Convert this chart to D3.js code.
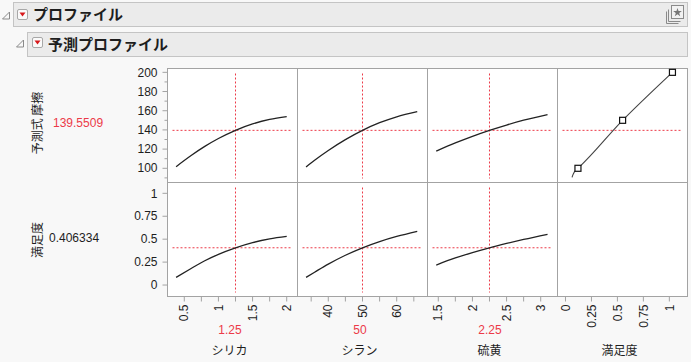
<!DOCTYPE html>
<html>
<head>
<meta charset="utf-8">
<script src="https://d3js.org/d3.v7.min.js"></script>
<style>
body { margin: 0; background: #f8f8f8; }
text { font-family: "Liberation Sans", Arial, "Noto Sans CJK JP", sans-serif; fill: #1e1e1e; }
.jp { font-family: "Noto Sans CJK JP", sans-serif; }
</style>
</head>
<body>
<svg width="691" height="362"></svg>
<script>
// factor settings
const factorNames = ["シリカ", "シラン", "硫黄"];
const currentX = [1.25, 50, 2.25];
const currentLabels = ["1.25", "50", "2.25"];
const predicted = 139.5509;
const desirability = 0.406334;

// profile traces
const silicaX   = [0.38, 0.6, 0.8, 1.0, 1.25, 1.5, 1.75, 2.0];
const silicaFr  = [101.7, 113.3, 122.8, 131.0, 139.55, 146.2, 150.9, 153.8];
const silicaDes = [0.084, 0.18, 0.265, 0.335, 0.406, 0.463, 0.503, 0.53];

const silaneX   = [33.5, 36, 40, 45, 50, 55, 60, 66];
const silaneFr  = [101.4, 108.4, 118.6, 129.9, 139.55, 147.5, 153.7, 159.0];
const silaneDes = [0.084, 0.14, 0.228, 0.325, 0.406, 0.474, 0.53, 0.586];

const sulfurX   = [1.47, 1.75, 2.0, 2.25, 2.5, 2.75, 3.1];
const sulfurFr  = [117.9, 126.4, 133.3, 139.55, 145.1, 150.1, 155.9];
const sulfurDes = [0.218, 0.295, 0.354, 0.406, 0.453, 0.497, 0.553];

// desirability function (desirability -> friction)
const desFnD  = [0.063, 0.075, 0.095, 0.12, 0.55, 1.03];
const desFnY  = [90.6, 94, 97.5, 100, 150, 200];
const desMarkD = [0.12, 0.55, 1.03];
const desMarkY = [100, 150, 200];

// axes
const xDomains = [[0.254, 2.158], [31.0, 69.0], [1.342, 3.246], [-0.077, 1.175]];
const xTicks = [
  [0.5, 0.75, 1, 1.25, 1.5, 1.75, 2],
  [35, 40, 45, 50, 55, 60, 65],
  [1.5, 1.75, 2, 2.25, 2.5, 2.75, 3],
  [0, 0.25, 0.5, 0.75, 1]
];
const xTickLabels = [
  ["0.5", "", "1", "", "1.5", "", "2"],
  ["", "40", "", "50", "", "60", ""],
  ["1.5", "", "2", "", "2.5", "", "3"],
  ["0", "0.25", "0.5", "0.75", "1"]
];
const yTicks1 = [100, 120, 140, 160, 180, 200];
const yMinor1 = [90, 110, 130, 150, 170, 190];
const yTicks2 = [0, 0.25, 0.5, 0.75, 1];
const yTickLabels2 = ["0", "0.25", "0.5", "0.75", "1"];

const svg = d3.select("svg");
const red = "#ec3a48";
const gridGray = "#a3a3a3";

// ---- header bars ----
function bar(x, y, w, h) {
  svg.append("rect").attr("x", x).attr("y", y).attr("width", w).attr("height", h)
    .attr("fill", "#ebebeb").attr("stroke", "#c4c4c4");
}
function disclosure(x, y) {
  svg.append("path").attr("d", `M${x + 7},${y} L${x + 7},${y + 7} L${x},${y + 7} Z`)
    .attr("fill", "none").attr("stroke", "#8a8a8a");
}
function redButton(x, y) {
  svg.append("rect").attr("x", x).attr("y", y).attr("width", 10).attr("height", 10).attr("rx", 1.5)
    .attr("fill", "#fafafa").attr("stroke", "#a8a8a8");
  svg.append("path").attr("d", `M${x + 2},${y + 3} L${x + 8},${y + 3} L${x + 5},${y + 7} Z`)
    .attr("fill", "#d7191c");
}
bar(13.5, 2.5, 674, 24);
bar(27.5, 32.5, 660, 24);
disclosure(2.5, 12);
disclosure(16.5, 40);
redButton(17.5, 9.5);
redButton(32.5, 37.5);
svg.append("text").attr("class", "jp").attr("x", 33).attr("y", 20)
  .attr("font-size", 15).attr("font-weight", "bold").text("プロファイル");
svg.append("text").attr("class", "jp").attr("x", 48).attr("y", 50)
  .attr("font-size", 15).attr("font-weight", "bold").text("予測プロファイル");

// top right icon
svg.append("path").attr("d", "M666.5,11.5 V23.5 H678.5").attr("fill", "none").attr("stroke", "#8a8a8a");
svg.append("path").attr("d", "M668.5,9.5 V21.5 H680.5").attr("fill", "none").attr("stroke", "#8a8a8a");
svg.append("rect").attr("x", 671.5).attr("y", 5.5).attr("width", 12).attr("height", 13)
  .attr("fill", "#f2f2f2").attr("stroke", "#8a8a8a");
svg.append("path").attr("d", d3.symbol(d3.symbolStar, 24)())
  .attr("transform", "translate(677.5,12.5)").attr("fill", "#777");

// ---- profiler grid ----
const x0 = 167.5, pw = 130;
const rowTop = [68.5, 182.5], rh = 114;

const xs = xDomains.map((d, i) => d3.scaleLinear().domain(d).range([x0 + i * pw, x0 + (i + 1) * pw]));
const y1 = d3.scaleLinear().domain([85.2, 204.0]).range([rowTop[0] + rh, rowTop[0]]);
const y2 = d3.scaleLinear().domain([-0.125, 1.118]).range([rowTop[1] + rh, rowTop[1]]);

for (let r = 0; r < 2; r++) {
  for (let c = 0; c < 4; c++) {
    svg.append("rect").attr("x", x0 + c * pw).attr("y", rowTop[r])
      .attr("width", pw).attr("height", rh)
      .attr("fill", "#fff").attr("stroke", gridGray);
  }
}

// y axes
const yAx1 = svg.append("g").attr("transform", `translate(${x0},0)`);
yAx1.selectAll(".maj").data(yTicks1).enter().append("line")
  .attr("x1", -5).attr("x2", 0).attr("y1", d => y1(d)).attr("y2", d => y1(d)).attr("stroke", gridGray);
yAx1.selectAll(".min").data(yMinor1).enter().append("line")
  .attr("x1", -3).attr("x2", 0).attr("y1", d => y1(d)).attr("y2", d => y1(d)).attr("stroke", gridGray);
yAx1.selectAll("text").data(yTicks1).enter().append("text")
  .attr("x", -10).attr("y", d => y1(d)).attr("dy", "0.35em").attr("text-anchor", "end")
  .attr("font-size", 12).text(d => d);

const yAx2 = svg.append("g").attr("transform", `translate(${x0},0)`);
yAx2.selectAll("line").data(yTicks2).enter().append("line")
  .attr("x1", -5).attr("x2", 0).attr("y1", d => y2(d)).attr("y2", d => y2(d)).attr("stroke", gridGray);
yAx2.selectAll("text").data(yTicks2).enter().append("text")
  .attr("x", -10).attr("y", d => y2(d)).attr("dy", "0.35em").attr("text-anchor", "end")
  .attr("font-size", 12).text((d, i) => yTickLabels2[i]);

// x axes
const xBase = rowTop[1] + rh;
xs.forEach((sc, i) => {
  const g = svg.append("g");
  g.selectAll("line").data(xTicks[i]).enter().append("line")
    .attr("x1", d => sc(d)).attr("x2", d => sc(d)).attr("y1", xBase).attr("y2", xBase + 5)
    .attr("stroke", gridGray);
  g.selectAll("text").data(xTicks[i]).enter().append("text")
    .attr("transform", d => `translate(${sc(d)},${xBase + 8}) rotate(-90)`)
    .attr("dy", "0.35em").attr("text-anchor", "end").attr("font-size", 12)
    .text((d, j) => xTickLabels[i][j]);
});

// factor labels and current values
const allNames = factorNames.concat(["満足度"]);
allNames.forEach((n, i) => {
  const cx = x0 + i * pw + pw / 2 - 3;
  svg.append("text").attr("class", "jp").attr("x", cx).attr("y", 355)
    .attr("text-anchor", "middle").attr("font-size", 12).text(n);
  if (i < 3) {
    svg.append("text").attr("x", cx + 0.5).attr("y", 334)
      .attr("text-anchor", "middle").attr("font-size", 12).style("fill", red).text(currentLabels[i]);
  }
});

// response labels on the left
svg.append("text").attr("class", "jp").attr("transform", "translate(38,123) rotate(-90)")
  .attr("text-anchor", "middle").attr("dy", "0.35em").attr("font-size", 12).text("予測式 摩擦");
svg.append("text").attr("x", 53).attr("y", 126.5).attr("font-size", 12).style("fill", red)
  .text(predicted.toFixed(4));
svg.append("text").attr("class", "jp").attr("transform", "translate(38,240) rotate(-90)")
  .attr("text-anchor", "middle").attr("dy", "0.35em").attr("font-size", 12).text("満足度");
svg.append("text").attr("x", 49).attr("y", 241.5).attr("font-size", 12)
  .text(String(desirability));

// crosshairs
function hline(c, yv, ysc) {
  const [a, b] = xs[c].range();
  svg.append("line").attr("x1", a + 5).attr("x2", b - 6).attr("y1", ysc(yv)).attr("y2", ysc(yv))
    .attr("stroke", red).attr("stroke-width", 1).attr("stroke-dasharray", "2,2");
}
function vline(c, xv, r) {
  svg.append("line").attr("x1", xs[c](xv)).attr("x2", xs[c](xv))
    .attr("y1", rowTop[r] + 5).attr("y2", rowTop[r] + rh - 4)
    .attr("stroke", red).attr("stroke-width", 1).attr("stroke-dasharray", "2,2");
}
for (let c = 0; c < 3; c++) {
  hline(c, predicted, y1);
  hline(c, desirability, y2);
  vline(c, currentX[c], 0);
  vline(c, currentX[c], 1);
}
hline(3, predicted, y1);

// traces
const traces = [
  [silicaX, silicaFr, silicaDes],
  [silaneX, silaneFr, silaneDes],
  [sulfurX, sulfurFr, sulfurDes]
];
traces.forEach(([xv, fr, de], c) => {
  const l1 = d3.line().x(d => xs[c](d[0])).y(d => y1(d[1])).curve(d3.curveMonotoneX);
  const l2 = d3.line().x(d => xs[c](d[0])).y(d => y2(d[1])).curve(d3.curveMonotoneX);
  svg.append("path").attr("d", l1(xv.map((v, i) => [v, fr[i]])))
    .attr("fill", "none").attr("stroke", "#222").attr("stroke-width", 1.3);
  svg.append("path").attr("d", l2(xv.map((v, i) => [v, de[i]])))
    .attr("fill", "none").attr("stroke", "#222").attr("stroke-width", 1.3);
});

// desirability function
const lD = d3.line().x(d => xs[3](d[0])).y(d => y1(d[1])).curve(d3.curveMonotoneY);
svg.append("path").attr("d", lD(desFnD.map((v, i) => [v, desFnY[i]])))
  .attr("fill", "none").attr("stroke", "#444").attr("stroke-width", 1.1);
svg.selectAll(".mk").data(desMarkD).enter().append("rect")
  .attr("x", (d) => xs[3](d) - 3).attr("y", (d, i) => y1(desMarkY[i]) - 3)
  .attr("width", 6).attr("height", 6)
  .attr("fill", "#fff").attr("stroke", "#111").attr("stroke-width", 1.2);
</script>
</body>
</html>
